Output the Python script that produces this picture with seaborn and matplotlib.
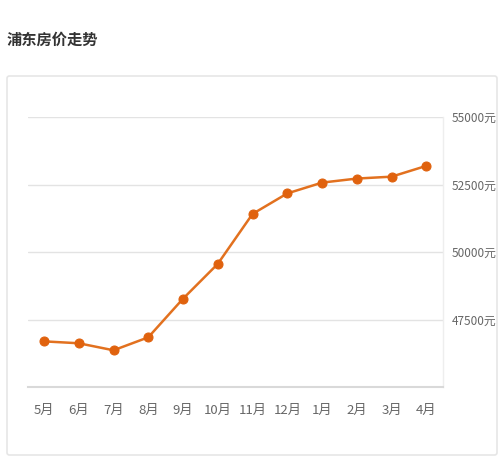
import matplotlib
matplotlib.use("Agg")
import matplotlib.pyplot as plt
import seaborn as sns
import pandas as pd
from matplotlib.patches import FancyBboxPatch

months = ["5月", "6月", "7月", "8月", "9月", "10月", "11月", "12月", "1月", "2月", "3月", "4月"]
prices = [46690, 46620, 46360, 46840, 48270, 49560, 51410, 52170, 52570, 52720, 52790, 53190]
yticks = [47500, 50000, 52500, 55000]
ytick_labels = ["47500元", "50000元", "52500元", "55000元"]
title = "浦东房价走势"

sns.set_theme(style="white")
plt.rcParams['font.family'] = ['Noto Sans CJK SC', 'DejaVu Sans']
tick_family = ['Liberation Sans Narrow', 'Noto Sans CJK SC', 'DejaVu Sans']

df = pd.DataFrame({"month": months, "price": prices, "idx": range(len(months))})

fig = plt.figure(figsize=(5, 4.7), dpi=100)
fig.patch.set_facecolor("white")

# outer card
card = FancyBboxPatch((7 / 500, 1 - 455 / 470), 490 / 500, 379 / 470,
                      boxstyle="round,pad=0,rounding_size=0.005",
                      transform=fig.transFigure, facecolor="none",
                      edgecolor="#e6e6e6", linewidth=1.2, zorder=-10)
fig.patches.append(card)

fig.text(7 / 500, 1 - 40 / 470, title, fontsize=11, fontweight="bold",
         color="#333333", va="center", ha="left")

ax = fig.add_axes([28 / 500, 1 - 387 / 470, 415 / 500, 270 / 470])
ax.set_zorder(5)
ax.set_facecolor("white")
sns.lineplot(data=df, x="idx", y="price", ax=ax, color="#e2711f", linewidth=1.8,
             marker="o", markersize=6.5, markerfacecolor="#e0620e",
             markeredgecolor="#e0620e", zorder=3)

ax.set_xlim(-0.46, 11.48)
ax.set_ylim(45000, 55000)
ax.set_xticks(range(len(months)))
ax.set_xticklabels(months, fontsize=9.5, color="#666666", family=tick_family)
ax.yaxis.tick_right()
ax.set_yticks(yticks)
ax.set_yticklabels(ytick_labels, fontsize=8.5, color="#666666", family=tick_family)
ax.tick_params(axis="x", length=0, pad=12)
ax.tick_params(axis="y", length=0, pad=6)
ax.set_xlabel("")
ax.set_ylabel("")
for y in yticks:
    ax.axhline(y, color="#e3e3e3", linewidth=1, zorder=1)

ax.spines["left"].set_visible(False)
ax.spines["top"].set_visible(False)
ax.spines["right"].set_color("#eeeeee")
ax.spines["right"].set_linewidth(1)
ax.spines["bottom"].set_color("#d9d9d9")
ax.spines["bottom"].set_linewidth(1.5)

fig.savefig("out.png", dpi=100, facecolor="white")
